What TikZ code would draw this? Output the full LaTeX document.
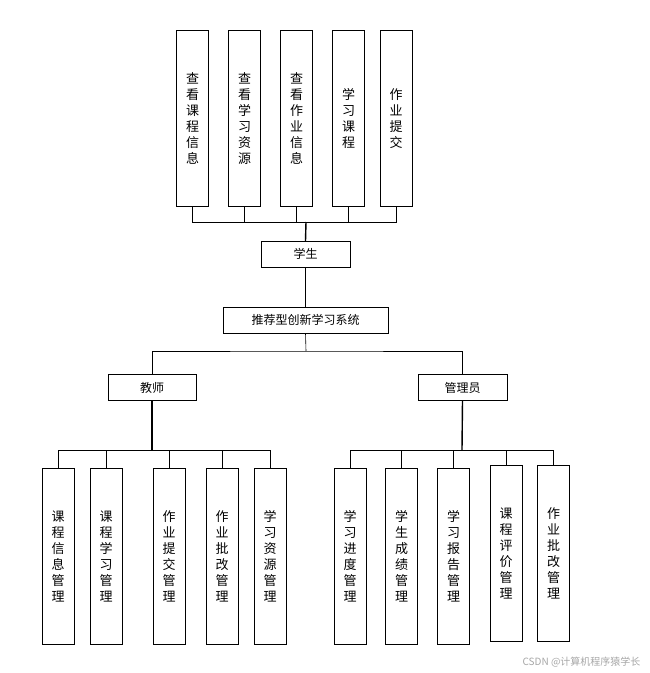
\documentclass[tikz,border=0pt]{standalone}
\usepackage{fontspec}
\setmainfont{Noto Sans CJK SC}
\begin{document}
\begin{tikzpicture}[x=1pt,y=-1pt,
  bx/.style={draw,thick,minimum width=#1,inner sep=0pt},
  vbox/.style={draw,thin,minimum width=32pt,minimum height=176pt,inner sep=0pt,align=center,font=\fontsize{13}{16}\selectfont,text depth=0pt},
  hbox/.style={draw,thin,minimum height=26pt,inner sep=0pt,font=\fontsize{12}{14}\selectfont},
  ln/.style={draw,line width=0.6pt},
  tk/.style={draw,line width=1.4pt}]
\useasboundingbox (0,0) rectangle (649,673);
% top
\node[vbox,anchor=north] (t1) at (192.5,30) {查\\看\\课\\程\\信\\息};
\node[vbox,anchor=north] (t2) at (244.5,30) {查\\看\\学\\习\\资\\源};
\node[vbox,anchor=north] (t3) at (296.5,30) {查\\看\\作\\业\\信\\息};
\node[vbox,anchor=north] (t4) at (348.5,30) {学\\习\\课\\程};
\node[vbox,anchor=north] (t5) at (396,30) {作\\业\\提\\交};
\node[hbox,minimum width=89pt] (stu) at (305.5,254) {学生};
\node[hbox,minimum width=165pt] (sys) at (305.5,320) {推荐型创新学习系统};
\node[hbox,minimum width=88pt] (tea) at (152,387.5) {教师};
\node[hbox,minimum width=89pt] (adm) at (462.5,387.5) {管理员};
\coordinate (tb) at (306,222);
\foreach \n in {t1,t2,t3,t4,t5}{\draw[ln] (\n.south) |- (tb);}
\draw[tk] (tb) -- (stu.north);
\draw[ln] (stu.south) -- (sys.north);
\coordinate (sb) at (306,351);
\draw[ln] (sys.south) -- (sb);
\draw[ln] (tea.north) |- (sb) -| (adm.north);
% teacher
\node[vbox,anchor=north] (a1) at (58,468) {课\\程\\信\\息\\管\\理};
\node[vbox,anchor=north] (a2) at (106,468) {课\\程\\学\\习\\管\\理};
\node[vbox,anchor=north] (a3) at (169,468) {作\\业\\提\\交\\管\\理};
\node[vbox,anchor=north] (a4) at (222,468) {作\\业\\批\\改\\管\\理};
\node[vbox,anchor=north] (a5) at (270,468) {学\\习\\资\\源\\管\\理};
\coordinate (ab) at (152,450);
\draw[tk] (tea.south) -- (ab);
\foreach \n in {a1,a2,a3,a4,a5}{\draw[ln] (\n.north) |- (ab);}
% admin
\node[vbox,anchor=north] (b1) at (350,468) {学\\习\\进\\度\\管\\理};
\node[vbox,anchor=north] (b2) at (401.5,468) {学\\生\\成\\绩\\管\\理};
\node[vbox,anchor=north] (b3) at (453.5,468) {学\\习\\报\\告\\管\\理};
\node[vbox,anchor=north] (b4) at (506,465) {课\\程\\评\\价\\管\\理};
\node[vbox,anchor=north] (b5) at (553.5,465) {作\\业\\批\\改\\管\\理};
\coordinate (bb) at (462,450);
\draw[tk] (adm.south) -- (bb);
\foreach \n in {b1,b2,b3,b4,b5}{\draw[ln] (\n.north) |- (bb);}
\node[anchor=east,text=gray!70,font=\fontsize{10}{12}\selectfont] (wm) at (644,662) {CSDN @计算机程序猿学长};
\end{tikzpicture}
\end{document}
